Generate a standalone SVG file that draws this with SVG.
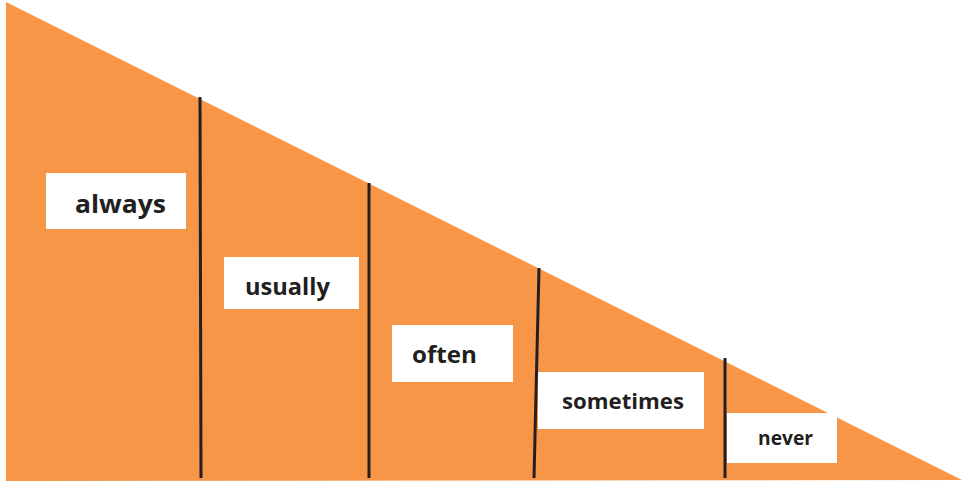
<svg xmlns="http://www.w3.org/2000/svg" width="963" height="482" viewBox="0 0 963 482">
<style>
.tri{fill:#F79646}
.div{stroke:#231F20;stroke-width:3;fill:none}
.box{fill:#FFFFFF}
.lbl{font-family:"Open Sans","Liberation Sans",sans-serif;font-weight:bold;fill:#231F20}
</style>
<rect width="963" height="482" fill="#FFFFFF"/>
<polygon class="tri" points="6,2 962,480 6,481"/>
<g id="connectors">
<line class="div" x1="200" y1="97" x2="201" y2="478"/>
<line class="div" x1="369" y1="183" x2="369" y2="478"/>
<line class="div" x1="539" y1="268" x2="534" y2="478"/>
<line class="div" x1="725" y1="358" x2="725" y2="478"/>
</g>
<g id="always">
<rect class="box" x="46" y="173" width="140" height="56"/>
<text class="lbl" x="75" y="213" font-size="25" textLength="91" lengthAdjust="spacingAndGlyphs">always</text>
</g>
<g id="usually">
<rect class="box" x="224" y="257" width="135" height="52"/>
<text class="lbl" x="245" y="295" font-size="23" textLength="85" lengthAdjust="spacingAndGlyphs">usually</text>
</g>
<g id="often">
<rect class="box" x="392" y="325" width="121" height="57"/>
<text class="lbl" x="412" y="363" font-size="23" textLength="65" lengthAdjust="spacingAndGlyphs">often</text>
</g>
<g id="sometimes">
<rect class="box" x="538" y="372" width="166" height="57"/>
<text class="lbl" x="562" y="409" font-size="22" textLength="122" lengthAdjust="spacingAndGlyphs">sometimes</text>
</g>
<g id="never">
<rect class="box" x="727" y="413" width="110" height="50"/>
<text class="lbl" x="758" y="445" font-size="19" textLength="55" lengthAdjust="spacingAndGlyphs">never</text>
</g>
</svg>
